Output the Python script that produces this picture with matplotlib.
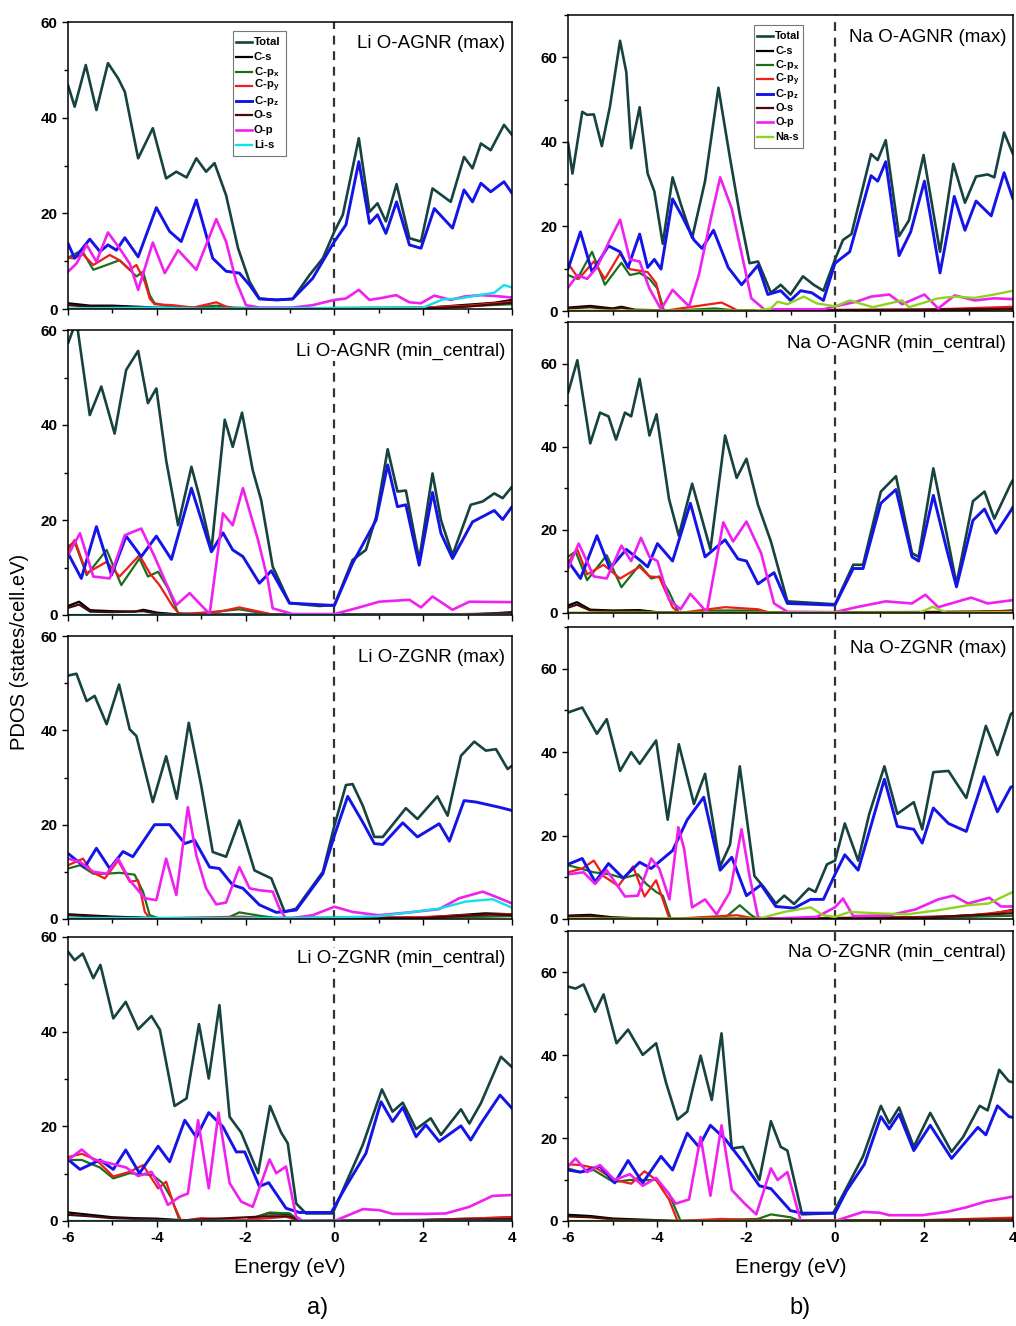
import matplotlib
matplotlib.use("Agg")
import matplotlib.pyplot as plt
from matplotlib.lines import Line2D
from matplotlib.patches import Rectangle
from matplotlib.ticker import MultipleLocator

plt.rcParams["font.family"] = ["Liberation Sans", "DejaVu Sans"]
plt.rcParams["mathtext.default"] = "regular"
plt.rcParams["axes.unicode_minus"] = False

# ---- data: (energy eV, PDOS) ----
# a) Li O-AGNR (max)
li_agnr_max_total = [(-6.0, 46.8), (-5.85, 42.3), (-5.6, 51.0), (-5.36, 41.6), (-5.1, 51.4), (-4.87, 48.2),
                     (-4.72, 45.4), (-4.42, 31.5), (-4.09, 37.8), (-3.79, 27.3), (-3.56, 28.7), (-3.33, 27.5),
                     (-3.11, 31.5), (-2.89, 28.7), (-2.7, 30.5), (-2.44, 23.8), (-2.17, 12.7), (-1.91, 5.7),
                     (-1.69, 2.2), (-1.3, 1.9), (-0.94, 2.1), (-0.56, 7.1), (-0.26, 10.6), (0.0, 16.2),
                     (0.19, 19.7), (0.55, 35.7), (0.79, 20.3), (0.97, 22.1), (1.16, 18.3), (1.4, 26.1),
                     (1.69, 14.8), (1.95, 14.1), (2.21, 25.2), (2.62, 22.4), (2.92, 31.8), (3.11, 29.4),
                     (3.3, 34.6), (3.52, 33.2), (3.82, 38.5), (4.0, 36.4)]
li_agnr_max_cpz = [(-6.0, 13.7), (-5.85, 10.6), (-5.51, 14.6), (-5.28, 12.0), (-5.1, 13.4), (-4.91, 12.3),
                   (-4.72, 14.9), (-4.42, 10.9), (-4.01, 21.2), (-3.71, 16.2), (-3.45, 14.1), (-3.11, 22.8),
                   (-2.74, 10.6), (-2.44, 7.9), (-2.14, 7.5), (-1.91, 5.0), (-1.69, 2.1), (-1.3, 1.9),
                   (-0.94, 2.1), (-0.49, 6.4), (0.0, 14.1), (0.26, 17.6), (0.55, 30.8), (0.79, 17.9),
                   (0.97, 19.7), (1.16, 15.8), (1.4, 22.4), (1.69, 13.4), (1.95, 12.7), (2.25, 21.0),
                   (2.66, 16.9), (2.92, 24.9), (3.11, 22.4), (3.3, 26.3), (3.52, 24.5), (3.82, 26.6), (4.0, 24.2)]
li_agnr_max_op = [(-6.0, 7.8), (-5.81, 9.5), (-5.58, 13.4), (-5.36, 9.9), (-5.1, 16.0), (-4.84, 12.7),
                  (-4.61, 9.5), (-4.42, 4.0), (-4.09, 13.9), (-3.82, 7.5), (-3.52, 12.3), (-3.11, 8.2),
                  (-2.66, 18.8), (-2.44, 14.1), (-2.21, 5.7), (-1.99, 0.8), (-1.69, 0.3), (-0.94, 0.3),
                  (-0.49, 0.8), (0.0, 1.9), (0.26, 2.2), (0.55, 4.0), (0.79, 1.9), (1.12, 2.4), (1.39, 2.9),
                  (1.69, 1.4), (1.95, 1.2), (2.25, 2.8), (2.62, 1.9), (2.92, 2.6), (3.3, 2.9), (3.64, 2.7),
                  (4.0, 2.4)]
li_agnr_max_cpx = [(-6.0, 10.7), (-5.69, 12.3), (-5.43, 8.2), (-5.13, 9.2), (-4.84, 10.2), (-4.61, 8.2),
                   (-4.46, 6.8), (-4.31, 7.8), (-4.16, 2.9), (-4.05, 1.2), (-3.71, 0.5), (-3.18, 0.3),
                   (-2.66, 0.7), (-2.29, 0.3), (-1.5, 0.1), (0.0, 0.2), (2.0, 0.3), (3.0, 0.6), (4.0, 1.0)]
li_agnr_max_cpy = [(-6.0, 10.7), (-5.88, 10.6), (-5.66, 11.4), (-5.43, 9.2), (-5.06, 11.3), (-4.84, 10.2),
                   (-4.61, 8.2), (-4.46, 9.2), (-4.27, 5.7), (-4.16, 2.2), (-4.05, 1.0), (-3.64, 0.8),
                   (-3.18, 0.3), (-2.66, 1.4), (-2.44, 0.5), (-2.2, 0.1), (0.0, 0.2), (2.0, 0.3),
                   (3.0, 0.7), (4.0, 1.5)]
li_agnr_max_cs = [(-6.0, 1.2), (-5.5, 0.7), (-5.0, 0.7), (-4.5, 0.5), (-4.0, 0.3), (-3.0, 0.1), (0.0, 0.1),
                  (2.0, 0.2), (3.0, 0.9), (3.6, 1.3), (4.0, 1.9)]
li_agnr_max_os = [(-6.0, 0.8), (-5.5, 0.5), (-5.0, 0.5), (-4.0, 0.2), (0.0, 0.1), (2.0, 0.1), (3.0, 0.5),
                  (4.0, 1.3)]
li_agnr_max_xs = [(-6.0, 0.1), (-4.0, 0.3), (-3.0, 0.1), (2.0, 0.3), (2.44, 2.0), (2.81, 2.2), (3.26, 2.9),
                  (3.6, 3.4), (3.82, 5.0), (4.0, 4.5)]

# a) Li O-AGNR (min_central)
li_agnr_min_total = [(-6.0, 57.2), (-5.81, 62.0), (-5.51, 42.1), (-5.25, 48.1), (-4.95, 38.2), (-4.69, 51.6),
                     (-4.42, 55.6), (-4.2, 44.6), (-4.01, 47.7), (-3.79, 32.6), (-3.52, 18.9), (-3.22, 31.2),
                     (-3.04, 24.9), (-2.77, 13.7), (-2.47, 41.1), (-2.29, 35.4), (-2.08, 42.6), (-1.84, 30.5),
                     (-1.65, 24.2), (-1.39, 10.2), (-1.01, 2.5), (-0.34, 1.9), (0.0, 2.1), (0.41, 11.6),
                     (0.71, 13.7), (0.94, 20.7), (1.2, 34.9), (1.42, 26.0), (1.61, 26.2), (1.91, 11.6),
                     (2.21, 29.8), (2.4, 20.0), (2.66, 12.6), (3.07, 23.2), (3.34, 23.9), (3.6, 25.6),
                     (3.79, 24.6), (4.0, 27.0)]
li_agnr_min_cpz = [(-6.0, 13.0), (-5.7, 7.7), (-5.36, 18.6), (-5.02, 8.4), (-4.69, 16.6), (-4.35, 12.3),
                   (-4.01, 16.6), (-3.67, 11.7), (-3.22, 26.7), (-2.77, 13.3), (-2.51, 17.3), (-2.29, 13.7),
                   (-2.06, 12.3), (-1.69, 6.7), (-1.42, 9.3), (-1.01, 2.5), (0.0, 2.0), (0.41, 10.9),
                   (0.94, 20.0), (1.2, 31.6), (1.42, 22.8), (1.61, 23.2), (1.91, 10.5), (2.21, 25.8),
                   (2.4, 17.2), (2.66, 11.9), (3.11, 19.6), (3.6, 22.0), (3.79, 20.1), (4.0, 22.8)]
li_agnr_min_op = [(-6.0, 12.6), (-5.73, 17.2), (-5.43, 8.1), (-5.06, 7.7), (-4.72, 16.8), (-4.35, 18.2),
                  (-4.05, 12.3), (-3.79, 6.7), (-3.56, 2.1), (-3.26, 4.6), (-2.81, 0.2), (-2.51, 21.4),
                  (-2.29, 18.9), (-2.06, 26.7), (-1.72, 15.8), (-1.5, 7.4), (-1.39, 1.4), (-0.94, 0.2),
                  (0.0, 0.2), (0.56, 1.6), (1.01, 2.8), (1.69, 3.2), (1.95, 1.6), (2.21, 3.9), (2.66, 1.1),
                  (3.04, 2.8), (4.0, 2.7)]
li_agnr_min_cpx = [(-6.0, 14.4), (-5.85, 15.4), (-5.58, 8.4), (-5.13, 13.7), (-4.8, 6.3), (-4.39, 11.9),
                   (-4.2, 8.1), (-3.97, 9.1), (-3.75, 5.6), (-3.52, 0.4), (-3.19, 0.2), (-2.14, 1.2),
                   (-1.69, 0.5), (-1.39, 0.1), (2.0, 0.1), (4.0, 0.3)]
li_agnr_min_cpy = [(-6.0, 13.7), (-5.85, 15.8), (-5.58, 8.8), (-5.13, 11.2), (-4.84, 8.1), (-4.39, 12.6),
                   (-4.16, 8.8), (-3.94, 6.3), (-3.64, 1.8), (-3.49, 0.2), (-2.59, 0.7), (-2.14, 1.6),
                   (-1.69, 0.7), (-1.39, 0.1), (2.0, 0.1), (4.0, 0.3)]
li_agnr_min_cs = [(-6.0, 1.9), (-5.75, 2.8), (-5.5, 1.0), (-5.0, 0.8), (-4.5, 0.7), (-4.3, 1.1), (-4.0, 0.5),
                  (-3.5, 0.1), (3.0, 0.1), (3.5, 0.3), (4.0, 0.6)]
li_agnr_min_os = [(-6.0, 1.5), (-5.75, 2.2), (-5.5, 0.7), (-5.0, 0.6), (-4.3, 0.8), (-4.0, 0.3), (-3.5, 0.1),
                  (3.0, 0.1), (4.0, 0.4)]
li_agnr_min_xs = [(-6.0, 0.1), (4.0, 0.1)]

# a) Li O-ZGNR (max)
li_zgnr_max_total = [(-6.0, 51.6), (-5.81, 52.0), (-5.58, 46.2), (-5.4, 47.3), (-5.13, 41.3), (-4.85, 49.7),
                     (-4.61, 40.2), (-4.46, 38.8), (-4.09, 24.8), (-3.79, 34.5), (-3.55, 25.5), (-3.28, 41.6),
                     (-3.0, 28.3), (-2.74, 14.2), (-2.44, 13.2), (-2.14, 20.9), (-1.8, 10.3), (-1.42, 8.6),
                     (-1.12, 1.5), (-0.86, 2.2), (-0.26, 10.0), (0.0, 19.8), (0.26, 28.4), (0.41, 28.6),
                     (0.64, 24.0), (0.9, 17.4), (1.09, 17.4), (1.61, 23.5), (1.87, 21.2), (2.32, 26.0),
                     (2.55, 21.9), (2.85, 34.6), (3.15, 37.6), (3.41, 35.7), (3.64, 36.0), (3.9, 31.8),
                     (4.0, 32.5)]
li_zgnr_max_cpz = [(-6.0, 13.9), (-5.62, 11.0), (-5.36, 15.0), (-5.06, 10.7), (-4.76, 14.3), (-4.54, 13.2),
                   (-4.05, 20.0), (-3.71, 20.0), (-3.37, 16.0), (-3.15, 16.7), (-2.81, 11.0), (-2.59, 10.7),
                   (-2.29, 7.2), (-2.06, 6.5), (-1.69, 3.0), (-1.31, 1.4), (-0.86, 1.9), (-0.26, 9.6),
                   (0.0, 17.7), (0.3, 26.0), (0.64, 20.5), (0.9, 16.0), (1.09, 15.8), (1.54, 20.4),
                   (1.87, 17.4), (2.36, 20.2), (2.59, 16.5), (2.92, 25.1), (3.19, 24.8), (3.71, 23.7),
                   (4.0, 23.0)]
li_zgnr_max_op = [(-6.0, 12.8), (-5.73, 12.1), (-5.43, 10.0), (-5.13, 9.6), (-4.87, 12.8), (-4.61, 8.2),
                  (-4.27, 4.4), (-4.01, 4.0), (-3.79, 12.8), (-3.56, 5.1), (-3.3, 23.7), (-3.11, 13.5),
                  (-2.89, 6.5), (-2.66, 3.1), (-2.44, 3.5), (-2.14, 11.0), (-1.91, 6.5), (-1.69, 6.1),
                  (-1.39, 5.8), (-1.24, 2.3), (-1.09, 0.0), (-0.49, 0.8), (0.0, 2.6), (0.41, 1.5),
                  (1.0, 0.8), (1.69, 1.4), (2.36, 2.1), (2.81, 4.4), (3.34, 5.8), (3.64, 4.7), (4.0, 3.3)]
li_zgnr_max_cpx = [(-6.0, 10.7), (-5.73, 11.4), (-5.43, 9.6), (-5.13, 9.6), (-4.84, 9.8), (-4.5, 9.4),
                   (-4.31, 5.8), (-4.16, 0.8), (-3.94, 0.1), (-2.44, 0.1), (-2.14, 1.4), (-1.69, 0.7),
                   (-1.24, 0.1), (2.0, 0.2), (4.0, 0.6)]
li_zgnr_max_cpy = [(-6.0, 11.4), (-5.66, 12.8), (-5.47, 10.0), (-5.17, 8.6), (-4.87, 12.4), (-4.61, 7.9),
                   (-4.42, 8.2), (-4.27, 1.5), (-4.16, 0.1), (-2.06, 0.5), (-1.5, 0.1), (2.0, 0.4),
                   (3.0, 0.8), (4.0, 1.0)]
li_zgnr_max_cs = [(-6.0, 1.0), (-5.0, 0.5), (-4.0, 0.2), (2.0, 0.3), (3.4, 1.2), (4.0, 1.0)]
li_zgnr_max_os = [(-6.0, 0.8), (-5.0, 0.4), (-4.0, 0.1), (2.0, 0.2), (3.5, 1.0), (4.0, 0.8)]
li_zgnr_max_xs = [(-6.0, 0.2), (-1.0, 0.2), (0.0, 0.3), (1.0, 0.6), (1.69, 1.4), (2.36, 2.2), (2.96, 3.7),
                  (3.56, 4.2), (4.0, 2.4)]

# a) Li O-ZGNR (min_central)
li_zgnr_min_total = [(-6.0, 56.9), (-5.85, 55.1), (-5.67, 56.5), (-5.43, 51.3), (-5.27, 54.1), (-4.98, 42.8),
                     (-4.7, 46.3), (-4.42, 40.5), (-4.12, 43.3), (-3.93, 40.4), (-3.6, 24.3), (-3.33, 25.9),
                     (-3.05, 41.6), (-2.83, 30.1), (-2.59, 45.6), (-2.36, 22.0), (-2.1, 18.7), (-1.72, 10.1),
                     (-1.45, 24.3), (-1.2, 18.7), (-1.05, 16.4), (-0.86, 3.7), (-0.64, 1.6), (-0.04, 1.6),
                     (0.26, 8.0), (0.64, 16.1), (1.07, 27.8), (1.31, 23.1), (1.54, 25.0), (1.84, 19.4),
                     (2.17, 21.7), (2.4, 18.2), (2.85, 23.6), (3.04, 20.6), (3.3, 24.9), (3.75, 34.7),
                     (4.0, 32.5)]
li_zgnr_min_cpz = [(-6.0, 13.0), (-5.73, 10.9), (-5.28, 12.9), (-4.98, 10.9), (-4.7, 15.0), (-4.39, 10.1),
                   (-3.97, 15.8), (-3.71, 12.5), (-3.37, 21.3), (-3.11, 17.7), (-2.83, 22.9), (-2.51, 19.9),
                   (-2.21, 14.6), (-2.02, 14.6), (-1.69, 7.3), (-1.48, 8.1), (-1.09, 2.7), (-0.79, 1.8),
                   (-0.07, 1.8), (0.26, 7.3), (0.71, 14.3), (1.05, 25.2), (1.31, 21.0), (1.54, 24.0),
                   (1.84, 17.8), (2.06, 20.3), (2.36, 16.8), (2.85, 20.1), (3.07, 17.1), (3.3, 20.6),
                   (3.73, 26.6), (4.0, 23.8)]
li_zgnr_min_op = [(-6.0, 12.9), (-5.69, 15.1), (-5.43, 13.0), (-5.06, 12.2), (-4.69, 11.3), (-4.42, 9.5),
                  (-4.12, 10.4), (-3.93, 7.3), (-3.75, 3.4), (-3.49, 5.1), (-3.3, 5.8), (-3.07, 21.3),
                  (-2.83, 6.9), (-2.61, 22.9), (-2.36, 8.0), (-2.1, 4.1), (-1.84, 3.0), (-1.46, 13.0),
                  (-1.31, 10.1), (-1.09, 11.5), (-0.86, 0.9), (-0.71, 0.0), (0.0, 0.0), (0.64, 2.5),
                  (1.01, 2.3), (1.31, 1.5), (2.06, 1.5), (2.51, 1.6), (3.04, 3.0), (3.56, 5.3), (4.0, 5.5)]
li_zgnr_min_cpx = [(-6.0, 12.9), (-5.69, 12.9), (-5.28, 11.3), (-4.98, 9.0), (-4.61, 10.1), (-4.09, 9.7),
                   (-3.87, 8.0), (-3.67, 4.8), (-3.49, 0.2), (-2.0, 0.1), (-1.46, 1.8), (-1.01, 1.6),
                   (-0.8, 0.0), (2.0, 0.2), (4.0, 0.8)]
li_zgnr_min_cpy = [(-6.0, 13.5), (-5.69, 14.2), (-5.36, 12.9), (-4.98, 9.4), (-4.61, 10.4), (-4.31, 11.8),
                   (-3.97, 6.9), (-3.79, 8.3), (-3.6, 3.0), (-3.45, 0.0), (-3.0, 0.6), (-2.0, 0.2),
                   (-1.09, 0.9), (-0.8, 0.0), (2.0, 0.2), (4.0, 0.8)]
li_zgnr_min_cs = [(-6.0, 1.8), (-5.5, 1.3), (-5.0, 0.8), (-4.5, 0.6), (-4.0, 0.5), (-3.5, 0.2), (-2.0, 0.1),
                  (-1.5, 1.6), (-1.0, 1.5), (-0.8, 0.0), (3.0, 0.2), (4.0, 0.8)]
li_zgnr_min_os = [(-6.0, 1.3), (-5.5, 1.0), (-5.0, 0.6), (-4.0, 0.3), (-3.5, 0.1), (-1.5, 1.0), (-1.0, 1.0),
                  (-0.8, 0.0), (4.0, 0.4)]
li_zgnr_min_xs = [(-6.0, 0.1), (4.0, 0.1)]

# b) Na O-AGNR (max)
na_agnr_max_total = [(-6.0, 39.9), (-5.9, 32.5), (-5.68, 47.1), (-5.57, 46.4), (-5.42, 46.5), (-5.24, 39.0),
                     (-5.06, 48.2), (-4.83, 63.9), (-4.69, 56.5), (-4.58, 38.5), (-4.39, 48.2), (-4.21, 32.5),
                     (-4.06, 28.3), (-3.87, 15.9), (-3.65, 31.6), (-3.46, 25.1), (-3.21, 17.3), (-2.92, 30.7),
                     (-2.62, 52.8), (-2.36, 36.2), (-2.14, 22.8), (-1.92, 11.3), (-1.73, 11.7), (-1.44, 4.3),
                     (-1.22, 6.2), (-1.0, 3.9), (-0.72, 8.2), (-0.48, 6.2), (-0.26, 4.8), (0.0, 12.2),
                     (0.18, 16.8), (0.37, 18.2), (0.81, 37.1), (0.96, 35.7), (1.14, 40.4), (1.44, 17.7),
                     (1.66, 21.4), (1.99, 36.9), (2.36, 14.0), (2.66, 34.8), (2.92, 25.6), (3.17, 31.8),
                     (3.43, 32.3), (3.58, 31.6), (3.8, 42.2), (4.0, 37.1)]
na_agnr_max_cpz = [(-6.0, 9.9), (-5.72, 18.7), (-5.46, 9.2), (-5.09, 15.4), (-4.83, 14.0), (-4.65, 10.3),
                   (-4.39, 18.2), (-4.21, 10.3), (-4.06, 12.2), (-3.91, 9.9), (-3.65, 26.5), (-3.43, 22.3),
                   (-3.17, 16.8), (-2.99, 14.8), (-2.73, 19.1), (-2.4, 10.3), (-2.1, 6.2), (-1.73, 10.8),
                   (-1.51, 3.9), (-1.22, 4.8), (-1.0, 2.5), (-0.77, 4.8), (-0.52, 4.3), (-0.26, 2.5),
                   (0.0, 11.3), (0.33, 14.0), (0.81, 32.0), (0.96, 30.7), (1.14, 35.3), (1.44, 13.1),
                   (1.7, 18.7), (2.01, 30.7), (2.36, 9.0), (2.68, 27.1), (2.92, 19.1), (3.17, 26.0),
                   (3.51, 22.5), (3.8, 32.7), (4.0, 26.5)]
na_agnr_max_op = [(-6.0, 5.5), (-5.79, 8.5), (-5.57, 7.6), (-5.35, 10.3), (-5.06, 16.8), (-4.83, 21.6),
                  (-4.61, 12.2), (-4.39, 11.7), (-4.17, 5.3), (-3.91, 0.4), (-3.65, 5.0), (-3.28, 1.1),
                  (-3.06, 8.5), (-2.8, 21.4), (-2.58, 31.6), (-2.32, 24.2), (-2.07, 12.2), (-1.88, 3.0),
                  (-1.59, 0.4), (-0.26, 0.4), (0.0, 1.1), (0.48, 2.2), (0.81, 3.4), (1.22, 3.9), (1.51, 1.6),
                  (2.01, 3.9), (2.32, 0.6), (2.69, 3.7), (3.14, 2.5), (3.58, 3.0), (4.0, 2.8)]
na_agnr_max_cpx = [(-6.0, 8.5), (-5.79, 7.6), (-5.46, 14.0), (-5.17, 6.2), (-4.8, 11.4), (-4.61, 8.5),
                   (-4.39, 9.0), (-4.17, 7.6), (-3.99, 5.3), (-3.84, 0.0), (-2.69, 0.6), (-2.1, 0.0),
                   (2.0, 0.2), (4.0, 0.4)]
na_agnr_max_cpy = [(-6.0, 11.3), (-5.76, 7.6), (-5.42, 11.7), (-5.17, 7.6), (-4.83, 13.6), (-4.61, 9.9),
                   (-4.21, 9.2), (-4.02, 6.6), (-3.87, 0.0), (-2.55, 2.0), (-2.2, 0.2), (2.0, 0.3),
                   (4.0, 1.0)]
na_agnr_max_cs = [(-6.0, 0.8), (-5.5, 1.2), (-5.0, 0.6), (-4.8, 1.0), (-4.5, 0.3), (-3.5, 0.1), (3.0, 0.2),
                  (4.0, 0.8)]
na_agnr_max_os = [(-6.0, 0.6), (-5.5, 0.9), (-5.0, 0.4), (-4.8, 0.8), (-4.5, 0.2), (-3.5, 0.0), (4.0, 0.5)]
na_agnr_max_xs = [(-6.0, 0.1), (-1.8, 0.1), (-1.44, 0.6), (-1.29, 2.2), (-1.07, 1.6), (-0.7, 3.4),
                  (-0.41, 1.8), (0.0, 1.1), (0.33, 2.5), (0.85, 0.9), (1.51, 2.5), (1.66, 0.9), (2.32, 3.0),
                  (2.69, 3.4), (3.14, 3.1), (3.58, 3.9), (4.0, 4.8)]

# b) Na O-AGNR (min_central)
na_agnr_min_total = [(-6.0, 52.9), (-5.79, 60.8), (-5.5, 40.8), (-5.28, 48.2), (-5.09, 47.3), (-4.92, 41.7),
                     (-4.72, 48.2), (-4.58, 47.3), (-4.39, 56.3), (-4.17, 42.7), (-4.01, 47.8), (-3.73, 27.4),
                     (-3.51, 18.6), (-3.21, 31.1), (-2.8, 15.3), (-2.47, 42.7), (-2.21, 32.5), (-1.99, 37.1),
                     (-1.73, 26.0), (-1.44, 17.2), (-1.07, 2.8), (0.0, 2.1), (0.41, 11.6), (0.63, 11.6),
                     (1.03, 29.2), (1.37, 32.9), (1.73, 14.4), (1.88, 13.5), (2.21, 34.8), (2.51, 19.0),
                     (2.73, 7.0), (3.1, 26.9), (3.36, 29.2), (3.58, 22.7), (3.95, 31.1), (4.0, 32.0)]
na_agnr_min_cpz = [(-6.0, 12.5), (-5.72, 8.3), (-5.35, 18.6), (-5.06, 10.7), (-4.69, 15.3), (-4.36, 12.5),
                   (-4.21, 11.1), (-3.99, 16.7), (-3.65, 12.5), (-3.25, 26.4), (-2.92, 13.5), (-2.47, 17.6),
                   (-2.18, 13.0), (-1.99, 12.5), (-1.73, 7.0), (-1.37, 9.7), (-1.07, 2.3), (0.0, 1.9),
                   (0.41, 10.7), (0.63, 10.7), (1.03, 26.4), (1.37, 29.7), (1.73, 13.5), (1.88, 12.5),
                   (2.21, 28.3), (2.51, 15.3), (2.73, 6.3), (3.1, 22.3), (3.36, 25.0), (3.62, 19.2),
                   (3.95, 24.6), (4.0, 25.5)]
na_agnr_min_op = [(-6.0, 10.7), (-5.76, 16.7), (-5.42, 8.8), (-5.13, 8.3), (-4.8, 16.2), (-4.58, 12.5),
                  (-4.36, 18.1), (-4.17, 13.5), (-3.99, 12.5), (-3.73, 3.2), (-3.47, 0.9), (-3.25, 4.6),
                  (-2.88, 0.2), (-2.51, 21.8), (-2.29, 17.2), (-1.99, 22.0), (-1.66, 14.4), (-1.37, 2.3),
                  (-1.07, 0.3), (0.0, 0.2), (0.48, 1.4), (1.14, 2.8), (1.73, 2.3), (2.03, 4.4), (2.32, 1.4),
                  (3.06, 3.7), (3.43, 2.3), (4.0, 3.1)]
na_agnr_min_cpx = [(-6.0, 13.5), (-5.83, 14.8), (-5.57, 7.9), (-5.13, 13.9), (-4.8, 6.2), (-4.39, 11.6),
                   (-4.13, 8.3), (-3.95, 8.8), (-3.73, 5.1), (-3.51, 0.0), (-2.62, 0.6), (-1.73, 0.6),
                   (-1.4, 0.0), (2.0, 0.1), (4.0, 0.3)]
na_agnr_min_cpy = [(-6.0, 12.1), (-5.79, 15.3), (-5.57, 9.3), (-5.2, 11.6), (-4.83, 8.3), (-4.39, 11.1),
                   (-4.17, 8.8), (-3.95, 8.6), (-3.65, 1.4), (-3.51, 0.0), (-2.47, 1.4), (-1.73, 0.9),
                   (-1.44, 0.0), (2.0, 0.2), (4.0, 0.5)]
na_agnr_min_cs = [(-6.0, 1.8), (-5.8, 2.6), (-5.5, 0.8), (-5.0, 0.6), (-4.4, 0.7), (-4.0, 0.2), (3.0, 0.1),
                  (4.0, 0.6)]
na_agnr_min_os = [(-6.0, 1.3), (-5.8, 2.0), (-5.5, 0.6), (-5.0, 0.4), (-4.4, 0.5), (-4.0, 0.1), (4.0, 0.3)]
na_agnr_min_xs = [(-6.0, 0.1), (1.9, 0.1), (2.2, 1.5), (2.5, 0.1), (4.0, 0.2)]

# b) Na O-ZGNR (max)
na_zgnr_max_total = [(-6.0, 49.5), (-5.68, 50.7), (-5.35, 44.4), (-5.13, 47.9), (-4.83, 35.5), (-4.58, 40.0),
                     (-4.39, 37.2), (-4.02, 42.8), (-3.76, 23.8), (-3.51, 41.9), (-3.17, 27.6), (-2.92, 34.8),
                     (-2.58, 12.6), (-2.36, 17.8), (-2.14, 36.6), (-1.81, 10.3), (-1.59, 7.5), (-1.33, 3.7),
                     (-1.14, 5.6), (-0.92, 3.6), (-0.59, 7.3), (-0.44, 6.5), (-0.18, 13.1), (0.0, 14.0),
                     (0.22, 22.9), (0.52, 14.0), (0.77, 25.2), (1.11, 36.6), (1.4, 25.2), (1.77, 28.0),
                     (1.96, 21.5), (2.21, 35.2), (2.55, 35.5), (2.95, 29.0), (3.39, 46.3), (3.65, 39.3),
                     (3.95, 49.1), (4.0, 49.5)]
na_zgnr_max_cpz = [(-6.0, 13.1), (-5.68, 14.5), (-5.39, 8.9), (-5.09, 13.3), (-4.76, 9.8), (-4.39, 13.6),
                   (-4.13, 12.1), (-3.65, 16.4), (-3.32, 23.8), (-2.95, 29.2), (-2.58, 11.7), (-2.32, 14.8),
                   (-1.99, 5.6), (-1.66, 8.2), (-1.33, 3.0), (-0.92, 2.6), (-0.55, 4.7), (-0.26, 4.7),
                   (0.0, 10.7), (0.22, 15.4), (0.52, 11.7), (1.11, 33.5), (1.4, 22.2), (1.77, 21.5),
                   (1.96, 18.2), (2.21, 26.6), (2.55, 22.9), (2.95, 21.0), (3.35, 34.1), (3.65, 25.7),
                   (3.95, 31.6), (4.0, 31.8)]
na_zgnr_max_op = [(-6.0, 10.7), (-5.65, 11.2), (-5.39, 8.4), (-5.13, 11.7), (-4.72, 5.4), (-4.43, 5.6),
                  (-4.13, 14.5), (-3.95, 12.1), (-3.72, 4.7), (-3.52, 22.0), (-3.39, 16.8), (-3.21, 2.8),
                  (-2.92, 4.7), (-2.66, 1.1), (-2.36, 6.5), (-2.1, 21.5), (-1.92, 10.3), (-1.73, 0.5),
                  (-1.59, 0.0), (-0.41, 0.5), (0.0, 2.8), (0.18, 4.9), (0.41, 0.7), (1.22, 0.9),
                  (1.81, 2.3), (2.32, 4.7), (2.66, 5.6), (2.99, 3.7), (3.47, 5.1), (3.73, 3.0), (4.0, 3.0)]
na_zgnr_max_cpx = [(-6.0, 12.9), (-5.72, 12.1), (-5.42, 11.2), (-5.06, 10.7), (-4.76, 9.8), (-4.43, 10.7),
                   (-4.24, 8.4), (-4.02, 6.5), (-3.87, 5.6), (-3.69, 0.0), (-2.45, 0.5), (-2.14, 3.3),
                   (-1.88, 0.9), (-1.73, 0.0), (2.0, 0.2), (4.0, 0.8)]
na_zgnr_max_cpy = [(-6.0, 11.2), (-5.68, 12.1), (-5.42, 14.0), (-5.2, 10.3), (-4.87, 7.9), (-4.54, 12.6),
                   (-4.28, 5.4), (-4.02, 9.3), (-3.87, 4.7), (-3.72, 0.0), (-2.2, 0.9), (-1.8, 0.1),
                   (2.0, 0.4), (3.0, 0.8), (4.0, 2.0)]
na_zgnr_max_cs = [(-6.0, 0.8), (-5.5, 1.0), (-5.0, 0.4), (-4.5, 0.2), (-3.5, 0.0), (1.0, 0.3), (2.5, 0.6),
                  (3.5, 1.2), (4.0, 2.2)]
na_zgnr_max_os = [(-6.0, 0.6), (-5.5, 0.7), (-5.0, 0.3), (-4.0, 0.0), (2.0, 0.3), (4.0, 1.4)]
na_zgnr_max_xs = [(-6.0, 0.1), (-1.7, 0.1), (-1.14, 1.7), (-0.55, 2.8), (-0.26, 0.9), (0.0, 0.5),
                  (0.33, 1.7), (0.86, 1.4), (1.6, 1.1), (2.32, 2.1), (2.99, 3.3), (3.45, 3.7), (4.0, 6.5)]

# b) Na O-ZGNR (min_central)
na_zgnr_min_total = [(-6.0, 56.6), (-5.83, 56.1), (-5.65, 57.1), (-5.39, 50.5), (-5.2, 54.7), (-4.91, 42.9),
                     (-4.65, 46.2), (-4.32, 40.1), (-4.02, 42.9), (-3.8, 33.5), (-3.54, 24.5), (-3.32, 26.4),
                     (-3.02, 39.9), (-2.77, 29.2), (-2.55, 45.3), (-2.32, 17.5), (-2.07, 17.9), (-1.7, 9.9),
                     (-1.44, 24.1), (-1.22, 17.9), (-1.07, 17.0), (-0.74, 1.6), (-0.04, 1.9), (0.26, 8.0),
                     (0.63, 15.6), (1.03, 27.8), (1.22, 23.6), (1.44, 27.4), (1.77, 17.9), (2.14, 26.1),
                     (2.62, 16.7), (2.88, 20.3), (3.25, 27.8), (3.43, 26.7), (3.69, 36.5), (3.91, 33.7),
                     (4.0, 33.5)]
na_zgnr_min_cpz = [(-6.0, 12.3), (-5.72, 11.8), (-5.28, 13.2), (-4.95, 9.2), (-4.65, 14.6), (-4.32, 9.2),
                   (-3.91, 15.6), (-3.65, 12.3), (-3.32, 21.2), (-3.06, 17.9), (-2.8, 23.1), (-2.47, 19.8),
                   (-2.07, 14.2), (-1.7, 8.5), (-1.44, 7.8), (-1.0, 2.5), (-0.74, 1.9), (0.0, 1.9),
                   (0.26, 7.3), (0.66, 13.7), (1.03, 25.2), (1.22, 22.2), (1.44, 25.8), (1.77, 17.0),
                   (2.14, 23.1), (2.62, 15.1), (2.88, 18.4), (3.21, 22.6), (3.39, 20.8), (3.65, 27.8),
                   (3.91, 25.2), (4.0, 25.0)]
na_zgnr_min_op = [(-6.0, 13.2), (-5.83, 15.1), (-5.57, 11.8), (-5.28, 13.5), (-4.95, 9.9), (-4.61, 11.3),
                  (-4.32, 8.5), (-4.02, 10.4), (-3.8, 7.5), (-3.58, 4.2), (-3.28, 5.2), (-3.02, 20.3),
                  (-2.8, 6.1), (-2.55, 23.1), (-2.32, 7.5), (-2.03, 4.2), (-1.77, 1.6), (-1.44, 12.7),
                  (-1.29, 9.9), (-1.07, 11.8), (-0.77, 0.0), (0.0, 0.0), (0.63, 2.2), (1.0, 2.0), (1.22, 1.4),
                  (1.96, 1.4), (2.51, 2.2), (2.95, 3.3), (3.39, 4.7), (4.0, 5.9)]
na_zgnr_min_cpx = [(-6.0, 12.7), (-5.72, 11.8), (-5.42, 12.3), (-4.98, 9.4), (-4.61, 9.9), (-4.32, 9.9),
                   (-4.02, 9.9), (-3.73, 6.6), (-3.47, 0.0), (-1.73, 0.5), (-1.44, 1.6), (-1.0, 0.9),
                   (-0.78, 0.0), (2.0, 0.1), (4.0, 0.4)]
na_zgnr_min_cpy = [(-6.0, 13.7), (-5.72, 13.5), (-5.35, 12.7), (-4.95, 9.9), (-4.58, 9.0), (-4.28, 12.0),
                   (-4.02, 9.9), (-3.73, 5.2), (-3.54, 0.0), (-2.55, 0.5), (-1.5, 0.1), (2.0, 0.2),
                   (4.0, 0.8)]
na_zgnr_min_cs = [(-6.0, 1.5), (-5.5, 1.2), (-5.0, 0.6), (-4.5, 0.4), (-3.5, 0.0), (3.0, 0.2), (4.0, 0.5)]
na_zgnr_min_os = [(-6.0, 1.1), (-5.5, 0.9), (-5.0, 0.4), (-4.5, 0.2), (-3.5, 0.0), (4.0, 0.3)]
na_zgnr_min_xs = [(-6.0, 0.1), (4.0, 0.1)]

titles = ["Li O-AGNR (max)", "Li O-AGNR (min_central)", "Li O-ZGNR (max)", "Li O-ZGNR (min_central)",
          "Na O-AGNR (max)", "Na O-AGNR (min_central)", "Na O-ZGNR (max)", "Na O-ZGNR (min_central)"]
series_names = ["Total", "C-s", "C-p$_x$", "C-p$_y$", "C-p$_z$", "O-s", "O-p"]
ion_names = ["Li-s", "Na-s"]

panels = [
    (li_agnr_max_total, li_agnr_max_cs, li_agnr_max_cpx, li_agnr_max_cpy, li_agnr_max_cpz, li_agnr_max_os, li_agnr_max_op, li_agnr_max_xs),
    (li_agnr_min_total, li_agnr_min_cs, li_agnr_min_cpx, li_agnr_min_cpy, li_agnr_min_cpz, li_agnr_min_os, li_agnr_min_op, li_agnr_min_xs),
    (li_zgnr_max_total, li_zgnr_max_cs, li_zgnr_max_cpx, li_zgnr_max_cpy, li_zgnr_max_cpz, li_zgnr_max_os, li_zgnr_max_op, li_zgnr_max_xs),
    (li_zgnr_min_total, li_zgnr_min_cs, li_zgnr_min_cpx, li_zgnr_min_cpy, li_zgnr_min_cpz, li_zgnr_min_os, li_zgnr_min_op, li_zgnr_min_xs),
    (na_agnr_max_total, na_agnr_max_cs, na_agnr_max_cpx, na_agnr_max_cpy, na_agnr_max_cpz, na_agnr_max_os, na_agnr_max_op, na_agnr_max_xs),
    (na_agnr_min_total, na_agnr_min_cs, na_agnr_min_cpx, na_agnr_min_cpy, na_agnr_min_cpz, na_agnr_min_os, na_agnr_min_op, na_agnr_min_xs),
    (na_zgnr_max_total, na_zgnr_max_cs, na_zgnr_max_cpx, na_zgnr_max_cpy, na_zgnr_max_cpz, na_zgnr_max_os, na_zgnr_max_op, na_zgnr_max_xs),
    (na_zgnr_min_total, na_zgnr_min_cs, na_zgnr_min_cpx, na_zgnr_min_cpy, na_zgnr_min_cpz, na_zgnr_min_os, na_zgnr_min_op, na_zgnr_min_xs),
]

# ---- style ----
COLORS = ["#16433f", "#000000", "#1c6e1c", "#ee1c1c", "#1414e8", "#4a0808", "#f020f0"]
ION_COLORS = ["#10e0e8", "#8fd41c"]
LW = [1.9, 1.6, 1.6, 1.6, 2.1, 1.6, 1.9]

W, H = 1016, 1326
# axes boxes in pixels: (left, top, right, bottom)
left_rows = [(22, 309), (330, 615), (636, 919), (937, 1221)]
right_rows = [(15, 311), (322, 613), (627, 919), (931, 1221)]
boxes = [(68, t, 512, b) for t, b in left_rows] + [(568, t, 1013, b) for t, b in right_rows]
# legend boxes in pixels: (left, top, right, bottom)
legend_boxes = {0: (233, 31, 286, 156), 4: (754, 25, 803, 148)}


def fx(px):
    return px / W


def fy(py):
    return 1 - py / H


def draw_legend(fig, box, entries, size):
    # hand-placed legend so every row has the same pitch
    l, t, r, b = box
    fig.patches.append(Rectangle((fx(l), fy(b)), fx(r - l), (b - t) / H, transform=fig.transFigure,
                                 facecolor="white", edgecolor="#777777", lw=0.8, zorder=10))
    step = (b - t - 8) / len(entries)
    for n, (color, lw, label) in enumerate(entries):
        yc = t + 4 + step * (n + 0.5)
        fig.lines.append(Line2D([fx(l + 3), fx(l + 19)], [fy(yc), fy(yc)], transform=fig.transFigure,
                                color=color, lw=lw, zorder=11))
        fig.text(fx(l + 21), fy(yc), label, fontsize=size, fontweight="bold", va="center", ha="left",
                 zorder=12)


fig = plt.figure(figsize=(W / 100, H / 100), dpi=100)

for i, (box, data, title) in enumerate(zip(boxes, panels, titles)):
    l, t, r, b = box
    ax = fig.add_axes([fx(l), fy(b), (r - l) / W, (b - t) / H])
    is_na = i >= 4
    entries = []
    for k, series in enumerate(data):
        xs = [p[0] for p in series]
        ys = [p[1] for p in series]
        if k < 7:
            color, lw, label = COLORS[k], LW[k], series_names[k]
        else:
            color, lw, label = ION_COLORS[int(is_na)], 1.7, ion_names[int(is_na)]
        ax.plot(xs, ys, color=color, lw=lw, label=label, solid_joinstyle="round", solid_capstyle="round")
        entries.append((color, lw, label))

    ax.axvline(0, color="#333333", lw=1.6, ls=(0, (4, 3)), zorder=0)
    ax.set_xlim(-6, 4)
    ax.set_ylim(0, 70 if is_na else 60)
    ax.xaxis.set_major_locator(MultipleLocator(2))
    ax.xaxis.set_minor_locator(MultipleLocator(1))
    ax.yaxis.set_major_locator(MultipleLocator(20))
    ax.yaxis.set_minor_locator(MultipleLocator(10))
    ax.tick_params(which="both", direction="out", width=1.0, labelsize=11)
    ax.tick_params(which="major", length=4)
    ax.tick_params(which="minor", length=3)
    for lab in ax.get_xticklabels() + ax.get_yticklabels():
        lab.set_fontweight("bold")
    for sp in ax.spines.values():
        sp.set_linewidth(1.1)
    if i % 4 != 3:
        ax.tick_params(axis="x", labelbottom=False)
    else:
        ax.set_xlabel("Energy (eV)", fontsize=15, labelpad=9)

    ax.text(0.985, 0.925, title, transform=ax.transAxes, ha="right", va="center", fontsize=13.5,
            zorder=5, bbox=dict(facecolor="white", edgecolor="none", pad=1.0))

    if i in legend_boxes:
        draw_legend(fig, legend_boxes[i], entries, 7.8 if is_na else 8.2)

fig.text(20 / W, 1 - 652 / H, "PDOS (states/cell.eV)", rotation=90, ha="center", va="center", fontsize=14.5)
fig.text(318 / W, 1 - 1308 / H, "a)", ha="center", va="center", fontsize=17)
fig.text(800 / W, 1 - 1308 / H, "b)", ha="center", va="center", fontsize=17)

fig.savefig("out.png", dpi=100)
